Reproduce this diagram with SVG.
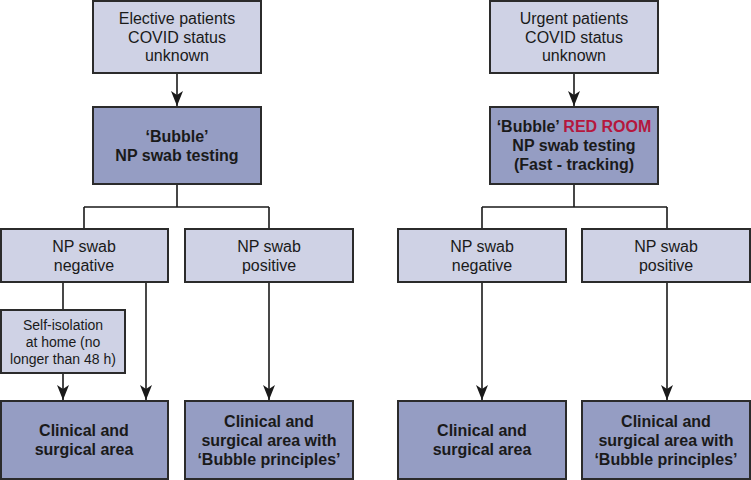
<svg xmlns="http://www.w3.org/2000/svg" width="751" height="480" viewBox="0 0 751 480">
<style>
.light{fill:#cfd2e5;stroke:#2b2b2b;stroke-width:2}
.dark{fill:#959dc3;stroke:#2b2b2b;stroke-width:2}
text{font-family:"Liberation Sans",Arial,sans-serif;font-size:16px;fill:#1a1a1a;text-anchor:middle}
.b{font-weight:bold}
.s{font-size:14px}
.red{fill:#b5173d}
.con{fill:none;stroke:#1a1a1a;stroke-width:1.6}
</style>
<defs>
<marker id="arr" viewBox="0 0 15 12" refX="15" refY="6" markerWidth="15" markerHeight="12" markerUnits="userSpaceOnUse" orient="auto">
<path d="M0,0 L15,6 L0,12 L4,6 z" fill="#1a1a1a"/>
</marker>
</defs>
<g id="connectors">
<line class="con" x1="177" y1="73" x2="177" y2="106" marker-end="url(#arr)"/>
<path class="con" d="M177,184 V207 M84,207 H269 M84,207 V229 M269,207 V229"/>
<line class="con" x1="63" y1="282" x2="63" y2="310"/>
<line class="con" x1="63" y1="373" x2="63" y2="400" marker-end="url(#arr)"/>
<line class="con" x1="146" y1="282" x2="146" y2="400" marker-end="url(#arr)"/>
<line class="con" x1="269" y1="282" x2="269" y2="400" marker-end="url(#arr)"/>
<line class="con" x1="574" y1="73" x2="574" y2="106" marker-end="url(#arr)"/>
<path class="con" d="M574,184 V207 M482,207 H667 M482,207 V229 M667,207 V229"/>
<line class="con" x1="482" y1="282" x2="482" y2="400" marker-end="url(#arr)"/>
<line class="con" x1="667" y1="282" x2="667" y2="400" marker-end="url(#arr)"/>
</g>
<g id="elective">
<rect class="light" x="93" y="1" width="168" height="72"/>
<text x="177" y="23.5">Elective patients</text>
<text x="177" y="42.5">COVID status</text>
<text x="177" y="61">unknown</text>
</g>
<g id="bubble-left">
<rect class="dark" x="93" y="107" width="168" height="77"/>
<text class="b" x="177" y="141.5">‘Bubble’</text>
<text class="b" x="177" y="161">NP swab testing</text>
</g>
<g id="neg-left">
<rect class="light" x="1" y="229" width="167" height="53"/>
<text x="84" y="252">NP swab</text>
<text x="84" y="271">negative</text>
</g>
<g id="pos-left">
<rect class="light" x="185" y="229" width="168" height="53"/>
<text x="269" y="252">NP swab</text>
<text x="269" y="271">positive</text>
</g>
<g id="self-isolation">
<rect class="light" x="1" y="310" width="124" height="63"/>
<text class="s" x="63" y="330">Self-isolation</text>
<text class="s" x="63" y="347">at home (no</text>
<text class="s" x="63" y="363.5">longer than 48 h)</text>
</g>
<g id="clinical-left">
<rect class="dark" x="1" y="401" width="167" height="78"/>
<text class="b" x="84" y="435.5">Clinical and</text>
<text class="b" x="84" y="455">surgical area</text>
</g>
<g id="bubble-area-left">
<rect class="dark" x="185" y="401" width="168" height="78"/>
<text class="b" x="269" y="427">Clinical and</text>
<text class="b" x="269" y="446">surgical area with</text>
<text class="b" x="269" y="464.5">‘Bubble principles’</text>
</g>
<g id="urgent">
<rect class="light" x="490" y="1" width="168" height="72"/>
<text x="574" y="23.5">Urgent patients</text>
<text x="574" y="42.5">COVID status</text>
<text x="574" y="61">unknown</text>
</g>
<g id="bubble-right">
<rect class="dark" x="490" y="107" width="168" height="77"/>
<text class="b" x="574" y="131.5">‘Bubble’ <tspan class="red">RED ROOM</tspan></text>
<text class="b" x="574" y="151">NP swab testing</text>
<text class="b" x="574" y="169.5">(Fast - tracking)</text>
</g>
<g id="neg-right">
<rect class="light" x="398" y="229" width="168" height="53"/>
<text x="482" y="252">NP swab</text>
<text x="482" y="271">negative</text>
</g>
<g id="pos-right">
<rect class="light" x="582" y="229" width="168" height="53"/>
<text x="666" y="252">NP swab</text>
<text x="666" y="271">positive</text>
</g>
<g id="clinical-right">
<rect class="dark" x="398" y="401" width="168" height="78"/>
<text class="b" x="482" y="435.5">Clinical and</text>
<text class="b" x="482" y="455">surgical area</text>
</g>
<g id="bubble-area-right">
<rect class="dark" x="582" y="401" width="168" height="78"/>
<text class="b" x="666" y="427">Clinical and</text>
<text class="b" x="666" y="446">surgical area with</text>
<text class="b" x="666" y="464.5">‘Bubble principles’</text>
</g>
</svg>
